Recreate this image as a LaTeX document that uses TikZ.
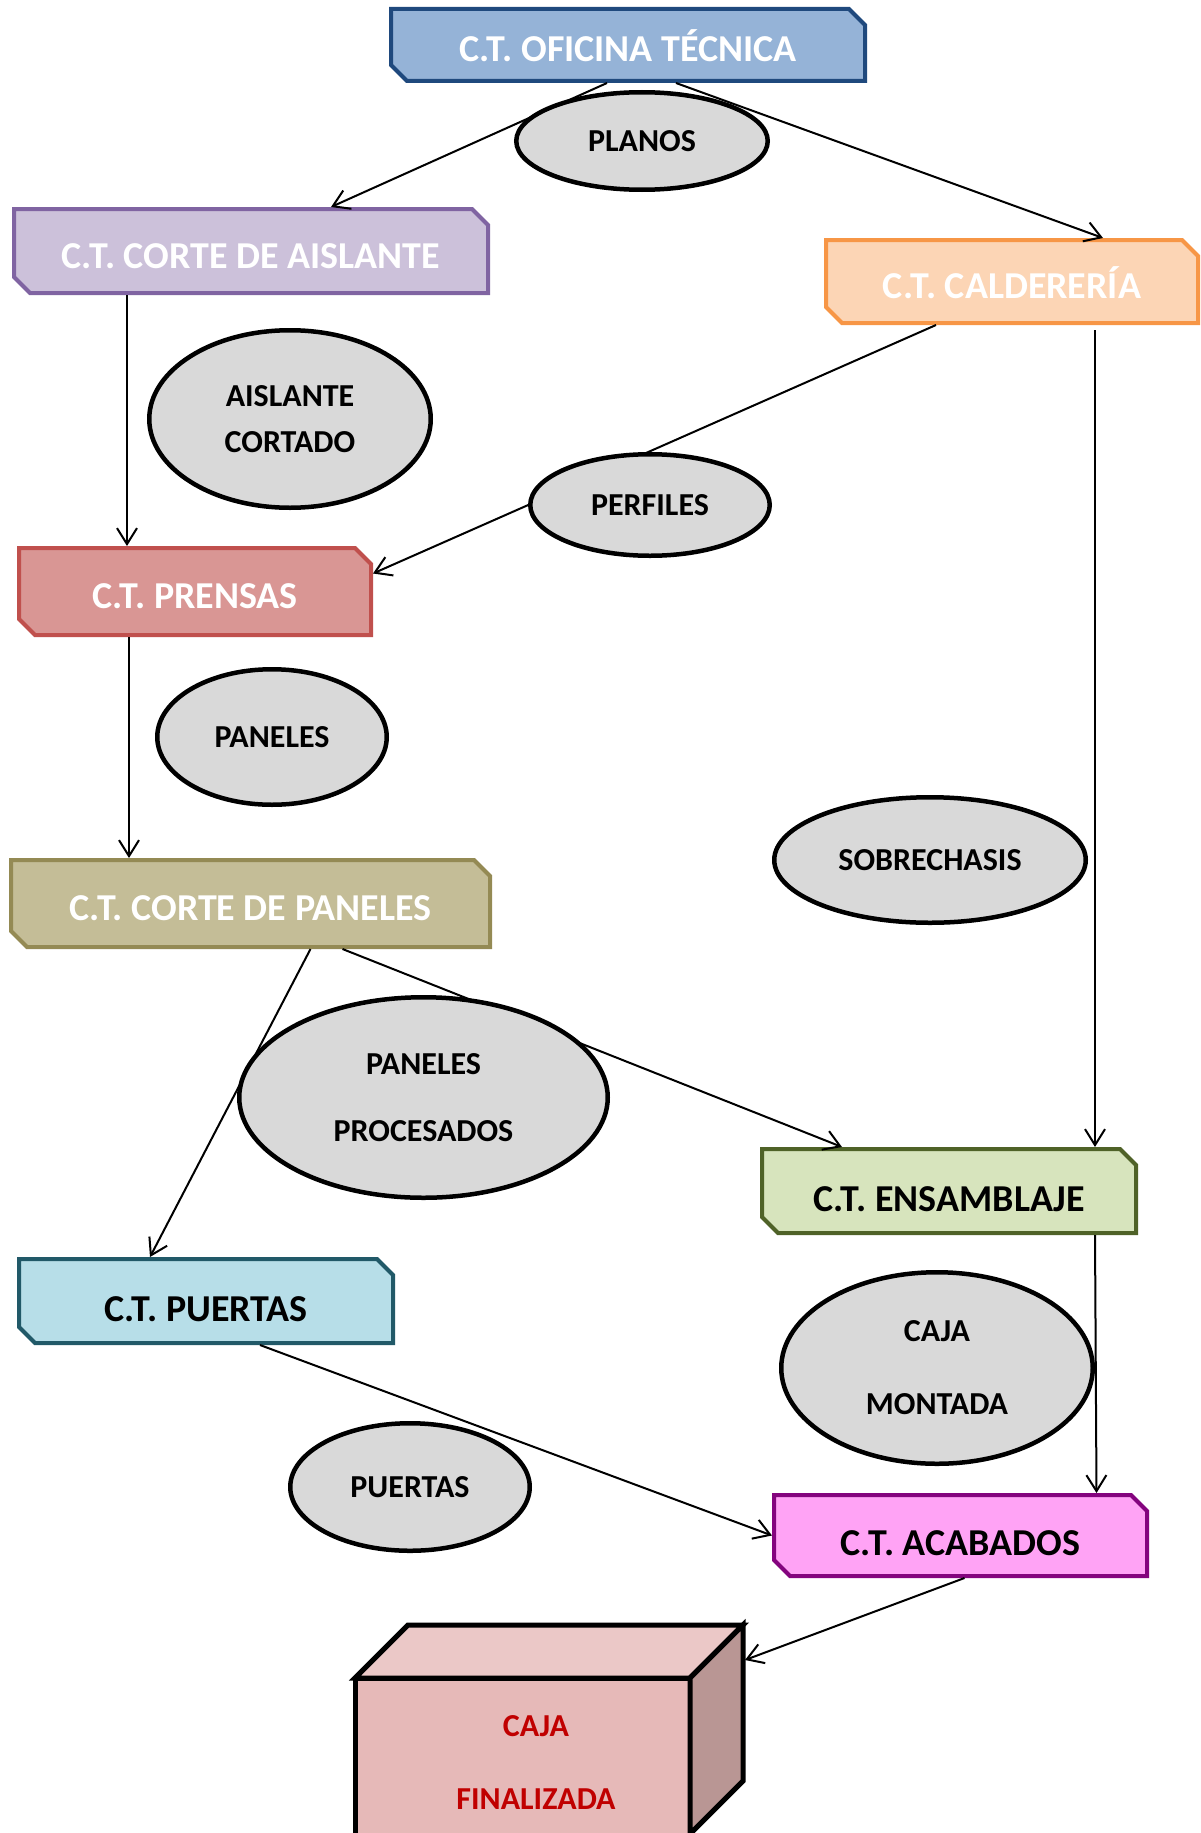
\documentclass[tikz,border=0pt]{standalone}
\usepackage{fontspec}
\setmainfont{Carlito}
\usetikzlibrary{arrows.meta, shapes.geometric, shapes.misc}
\definecolor{ofiFill}{HTML}{95B3D7}
\definecolor{ofiDraw}{HTML}{1F497D}
\definecolor{aisFill}{HTML}{CCC1DA}
\definecolor{aisDraw}{HTML}{8064A2}
\definecolor{calFill}{HTML}{FCD5B5}
\definecolor{calDraw}{HTML}{F79646}
\definecolor{preFill}{HTML}{D99694}
\definecolor{preDraw}{HTML}{C0504D}
\definecolor{cpaFill}{HTML}{C4BD97}
\definecolor{cpaDraw}{HTML}{948A54}
\definecolor{ensFill}{HTML}{D7E4BD}
\definecolor{ensDraw}{HTML}{4F6228}
\definecolor{pueFill}{HTML}{B7DEE8}
\definecolor{pueDraw}{HTML}{215968}
\definecolor{acaFill}{HTML}{FFA3F5}
\definecolor{acaDraw}{HTML}{84047E}
\definecolor{flujoGray}{HTML}{D9D9D9}
\definecolor{cajaFront}{HTML}{E6B9B8}
\definecolor{cajaTop}{HTML}{EBC8C7}
\definecolor{cajaSide}{HTML}{B99694}
\definecolor{cajaText}{HTML}{C00000}
\tikzset{
  arrowK/.style={-{Straight Barb[length=16pt,width=20pt]}, line width=2pt},
  boxCT/.style={chamfered rectangle, chamfered rectangle corners={north east,south west},
                chamfered rectangle xsep=8pt, chamfered rectangle ysep=8pt,
                line width=4pt, inner sep=0pt, text height=40pt, text depth=0pt,
                font=\bfseries\fontsize{38}{42}\selectfont},
  boxW/.style={boxCT, text=white, text height=34pt},
  flujo/.style={ellipse, draw, line width=4.5pt, fill=flujoGray, inner sep=0pt,
                align=center, font=\bfseries\fontsize{32}{46}\selectfont},
}

\begin{document}
\begin{tikzpicture}[x=1pt, y=-1pt]
    \clip (0,0) rectangle (1201,1833);
    % centros de trabajo
    \node[boxW, draw=ofiDraw, fill=ofiFill, minimum width=474pt, minimum height=72pt] (ofi) at (628,45) {C.T. OFICINA TÉCNICA};
    \node[boxW, draw=aisDraw, fill=aisFill, minimum width=474pt, minimum height=84pt] (ais) at (251,251) {C.T. CORTE DE AISLANTE};
    \node[boxW, draw=calDraw, fill=calFill, minimum width=372pt, minimum height=83pt] (cal) at (1012,281.5) {C.T. CALDERERÍA};
    \node[boxW, draw=preDraw, fill=preFill, minimum width=352pt, minimum height=87pt] (pre) at (195,591.5) {C.T. PRENSAS};
    \node[boxW, draw=cpaDraw, fill=cpaFill, minimum width=479pt, minimum height=87pt] (cpa) at (250.5,903.5) {C.T. CORTE DE PANELES};
    \node[boxCT, draw=ensDraw, fill=ensFill, minimum width=374pt, minimum height=84pt] (ens) at (949,1191) {C.T. ENSAMBLAJE};
    \node[boxCT, draw=pueDraw, fill=pueFill, minimum width=374pt, minimum height=84pt] (pue) at (206,1301) {C.T. PUERTAS};
    \node[boxCT, draw=acaDraw, fill=acaFill, minimum width=373pt, minimum height=81pt] (aca) at (960.5,1535.5) {C.T. ACABADOS};

    % caja finalizada
    \filldraw[fill=cajaFront, line width=5pt, line join=miter] (355,1678) rectangle (690,1900);
    \filldraw[fill=cajaTop, line width=5pt, line join=miter] (355,1678) -- (408,1625) -- (743,1625) -- (690,1678) -- cycle;
    \filldraw[fill=cajaSide, line width=5pt, line join=miter] (690,1678) -- (743,1625) -- (743,1781) -- (690,1834) -- cycle;
    \node[text=cajaText, align=center, inner sep=0pt, font=\bfseries\fontsize{32}{73}\selectfont] (caja) at (536,1762) {CAJA\\FINALIZADA};
    \coordinate (cajaR) at (745,1660);

    % flujos
    \draw[arrowK] ([xshift=-21pt]ofi.south) -- ([xshift=80pt]ais.north);
    \draw[arrowK] ([xshift=48pt]ofi.south) -- ([xshift=91pt]cal.north);
    \draw[arrowK] ([xshift=-124pt]ais.south) -- ([xshift=-124pt]ais.south |- pre.north);
    \draw[arrowK] ([xshift=-76pt]cal.south) -- ([yshift=18pt]pre.east);
    \draw[arrowK] ([xshift=83pt,yshift=-5pt]cal.south) -- ([xshift=83pt]cal.south |- ens.north);
    \draw[arrowK] ([xshift=-66pt]pre.south) -- ([xshift=-66pt]pre.south |- cpa.north);
    \draw[arrowK] ([xshift=60pt]cpa.south) -- ([xshift=-56pt]pue.north);
    \draw[arrowK] ([xshift=92pt]cpa.south) -- ([xshift=-107pt]ens.north);
    \draw[arrowK] ([xshift=146pt]ens.south) -- ([xshift=136pt]aca.north);
    \draw[arrowK] ([xshift=54pt]pue.south) -- (aca.west);
    \draw[arrowK] ([xshift=4pt]aca.south) -- (cajaR);

    % materiales
    \node[flujo, minimum width=251.5pt, minimum height=97.5pt] (planos) at (642,141) {PLANOS};
    \node[flujo, minimum width=281.5pt, minimum height=177.5pt] (aisc) at (290,419) {AISLANTE\\CORTADO};
    \node[flujo, minimum width=239.5pt, minimum height=101.5pt] (perf) at (650,505) {PERFILES};
    \node[flujo, minimum width=229.5pt, minimum height=135.5pt] (panel) at (272,737) {PANELES};
    \node[flujo, minimum width=311.5pt, minimum height=125.5pt] (sobre) at (930,860) {SOBRECHASIS};
    \node[flujo, minimum width=368.5pt, minimum height=200.5pt, font=\bfseries\fontsize{32}{67}\selectfont] (proc) at (423.5,1097.5) {PANELES\\PROCESADOS};
    \node[flujo, minimum width=311.5pt, minimum height=191.5pt, font=\bfseries\fontsize{32}{73}\selectfont] (cajam) at (937,1368) {CAJA\\MONTADA};
    \node[flujo, minimum width=239.5pt, minimum height=127.5pt] (puer) at (410,1487) {PUERTAS};
\end{tikzpicture}
\end{document}
